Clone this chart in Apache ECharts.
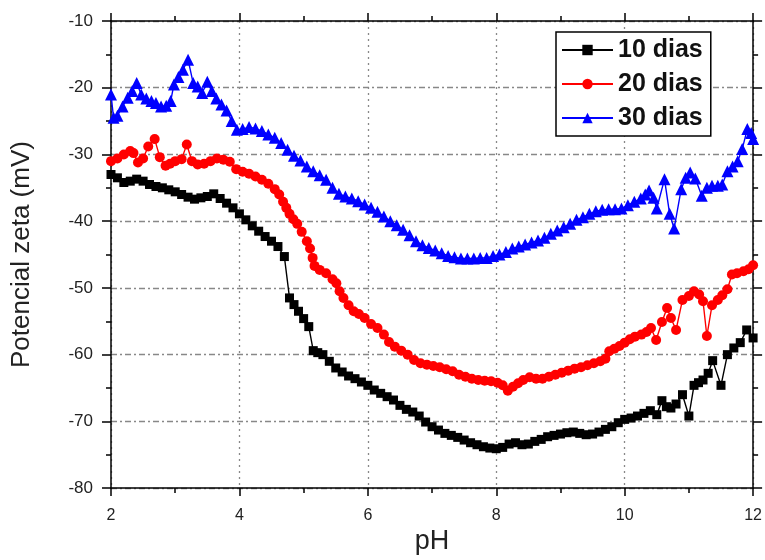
<!DOCTYPE html>
<html>
<head>
<meta charset="utf-8">
<script src="https://cdn.jsdelivr.net/npm/echarts@6/dist/echarts.min.js"></script>
<style>html,body{margin:0;padding:0;background:#fff}#c{width:765px;height:560px}</style>
</head>
<body>
<div id="c"></div>
<script>
var seriesNames = ['10 dias', '20 dias', '30 dias'];
var xTicks = [2, 4, 6, 8, 10, 12];
var yTicks = [-80, -70, -60, -50, -40, -30, -20, -10];

var ph10 = [2.0,2.1,2.2,2.3,2.4,2.5,2.6,2.7,2.8,2.9,3.0,3.1,3.2,3.3,3.4,3.5,3.6,3.7,3.8,3.9,4.0,4.1,4.2,4.3,4.4,4.5,4.6,4.7,4.78,4.85,4.92,5.0,5.08,5.15,5.22,5.3,5.4,5.5,5.6,5.7,5.8,5.9,6.0,6.1,6.2,6.3,6.4,6.5,6.6,6.7,6.8,6.9,7.0,7.1,7.2,7.3,7.4,7.5,7.6,7.7,7.8,7.9,8.0,8.1,8.2,8.3,8.4,8.5,8.6,8.7,8.8,8.9,9.0,9.1,9.2,9.3,9.4,9.5,9.6,9.7,9.8,9.9,10.0,10.1,10.2,10.3,10.4,10.5,10.58,10.65,10.72,10.8,10.9,11.0,11.08,11.15,11.22,11.3,11.37,11.5,11.6,11.7,11.8,11.9,12.0];
var zeta10 = [-33.0,-33.5,-34.2,-34.0,-33.7,-34.0,-34.5,-34.8,-35.0,-35.3,-35.6,-36.0,-36.4,-36.7,-36.5,-36.3,-35.9,-36.6,-37.3,-38.0,-38.9,-39.8,-40.7,-41.5,-42.3,-43.0,-43.8,-45.3,-51.5,-52.5,-53.5,-54.6,-55.8,-59.4,-59.7,-60.0,-61.0,-62.0,-62.6,-63.2,-63.6,-64.1,-64.6,-65.3,-65.8,-66.3,-66.8,-67.6,-68.2,-68.6,-69.2,-70.1,-70.8,-71.3,-71.8,-72.1,-72.4,-72.8,-73.2,-73.5,-73.8,-74.0,-74.1,-73.9,-73.4,-73.2,-73.5,-73.4,-73.0,-72.7,-72.3,-72.1,-71.9,-71.7,-71.6,-71.8,-72.0,-71.9,-71.6,-71.2,-70.8,-70.2,-69.7,-69.5,-69.2,-68.8,-68.4,-69.0,-66.9,-67.8,-68.0,-67.4,-66.0,-69.2,-64.6,-64.2,-63.8,-62.8,-60.9,-64.6,-60.0,-59.0,-58.2,-56.3,-57.5];

var ph20 = [2.0,2.1,2.2,2.3,2.35,2.42,2.5,2.58,2.68,2.76,2.85,2.92,3.0,3.1,3.18,3.26,3.35,3.45,3.55,3.65,3.75,3.85,3.95,4.05,4.15,4.25,4.35,4.45,4.55,4.62,4.68,4.73,4.78,4.84,4.9,4.97,5.05,5.1,5.14,5.17,5.25,5.35,5.45,5.51,5.56,5.62,5.7,5.78,5.86,5.95,6.05,6.15,6.25,6.33,6.42,6.52,6.62,6.72,6.82,6.92,7.02,7.12,7.22,7.32,7.42,7.52,7.62,7.72,7.82,7.92,8.02,8.1,8.18,8.26,8.34,8.42,8.52,8.62,8.72,8.82,8.92,9.02,9.12,9.22,9.32,9.42,9.52,9.62,9.7,9.76,9.84,9.92,10.0,10.08,10.16,10.26,10.34,10.41,10.49,10.58,10.66,10.72,10.8,10.9,11.0,11.08,11.16,11.22,11.28,11.36,11.45,11.52,11.6,11.67,11.75,11.85,11.93,12.0];
var zeta20 = [-31.0,-30.6,-30.0,-29.5,-29.8,-31.2,-30.6,-28.8,-27.7,-30.4,-31.7,-31.4,-31.0,-30.7,-28.5,-31.0,-31.5,-31.4,-31.0,-30.6,-30.8,-31.1,-32.2,-32.6,-32.9,-33.3,-33.8,-34.4,-35.2,-36.0,-37.1,-38.0,-38.9,-39.7,-40.4,-41.6,-43.0,-44.1,-45.5,-46.7,-47.3,-47.8,-48.7,-49.3,-50.5,-51.5,-52.6,-53.5,-53.9,-54.5,-55.4,-56.0,-57.0,-58.1,-58.8,-59.4,-60.0,-60.8,-61.3,-61.5,-61.7,-61.9,-62.2,-62.5,-63.0,-63.3,-63.6,-63.8,-63.9,-64.0,-64.2,-64.6,-65.4,-64.8,-64.3,-63.8,-63.4,-63.6,-63.6,-63.3,-63.0,-62.7,-62.4,-62.1,-61.9,-61.6,-61.3,-61.0,-60.6,-59.5,-59.1,-58.7,-58.2,-57.7,-57.3,-57.0,-56.6,-56.0,-57.8,-55.1,-53.0,-54.5,-56.3,-51.8,-51.2,-50.5,-51.0,-52.0,-57.2,-52.6,-51.8,-51.1,-50.2,-48.0,-47.8,-47.5,-47.2,-46.6];

var ph30 = [2.0,2.04,2.1,2.18,2.26,2.33,2.4,2.47,2.55,2.63,2.7,2.78,2.86,2.93,2.98,3.05,3.12,3.2,3.28,3.35,3.42,3.5,3.57,3.64,3.72,3.8,3.88,3.96,4.05,4.15,4.25,4.35,4.45,4.55,4.65,4.75,4.85,4.95,5.05,5.15,5.25,5.35,5.45,5.55,5.65,5.75,5.85,5.95,6.05,6.15,6.25,6.35,6.45,6.55,6.65,6.75,6.85,6.95,7.05,7.15,7.25,7.35,7.45,7.55,7.65,7.75,7.85,7.95,8.05,8.15,8.25,8.35,8.45,8.55,8.65,8.75,8.85,8.95,9.05,9.15,9.25,9.35,9.45,9.55,9.65,9.75,9.85,9.95,10.05,10.15,10.25,10.32,10.38,10.45,10.5,10.62,10.7,10.77,10.88,10.95,11.02,11.1,11.2,11.28,11.36,11.45,11.52,11.6,11.68,11.76,11.83,11.91,11.97,12.0];
var zeta30 = [-21.0,-24.5,-24.2,-22.8,-21.5,-20.5,-19.3,-21.0,-21.6,-22.0,-22.3,-22.8,-22.7,-22.0,-19.5,-18.4,-17.3,-15.8,-19.3,-19.8,-20.8,-19.1,-20.5,-21.6,-22.5,-23.4,-25.0,-26.3,-26.2,-25.9,-26.1,-26.5,-27.0,-27.5,-28.3,-29.3,-30.2,-30.9,-31.8,-32.5,-33.1,-33.8,-35.0,-35.9,-36.3,-36.6,-37.0,-37.5,-38.0,-38.6,-39.3,-40.0,-40.6,-41.3,-42.1,-43.0,-43.6,-44.0,-44.4,-44.8,-45.2,-45.4,-45.6,-45.6,-45.6,-45.5,-45.5,-45.2,-45.0,-44.6,-44.1,-43.8,-43.5,-43.2,-42.9,-42.5,-41.9,-41.4,-40.9,-40.4,-39.8,-39.4,-38.9,-38.5,-38.3,-38.2,-38.2,-38.1,-37.6,-37.1,-36.6,-36.0,-35.4,-36.5,-38.1,-33.7,-38.9,-41.1,-35.2,-33.5,-32.7,-33.6,-36.2,-35.0,-34.7,-34.7,-34.5,-32.5,-31.8,-31.0,-29.2,-26.2,-26.8,-27.7];

function zip(a, b) { return a.map(function (v, i) { return [v, b[i]]; }); }

var FONT = "'Liberation Sans', Arial, sans-serif";
var chart = echarts.init(document.getElementById('c'), null, { renderer: 'canvas' });

var xBase = {
  type: 'value', min: xTicks[0], max: xTicks[xTicks.length - 1], interval: 2,
  axisLine: { show: true, onZero: false, lineStyle: { color: '#000', width: 1.5 } },
  axisTick: { show: true, inside: false, length: 8, lineStyle: { color: '#000', width: 1.5 } },
  minorTick: { show: true, splitNumber: 2, length: 5, lineStyle: { color: '#000', width: 1.5 } },
  minorSplitLine: { show: false }
};
var yBase = {
  type: 'value', min: yTicks[0], max: yTicks[yTicks.length - 1], interval: 10,
  axisLine: { show: true, onZero: false, lineStyle: { color: '#000', width: 1.5 } },
  axisTick: { show: true, inside: false, length: 9, lineStyle: { color: '#000', width: 1.5 } },
  minorTick: { show: true, splitNumber: 2, length: 5, lineStyle: { color: '#000', width: 1.5 } },
  minorSplitLine: { show: false }
};

var option = {
  animation: false,
  backgroundColor: '#fff',
  grid: { left: 111, right: 11, top: 21, bottom: 68, containLabel: false },
  xAxis: [
    Object.assign({}, xBase, {
      position: 'bottom',
      name: 'pH', nameLocation: 'middle', nameGap: 38,
      nameTextStyle: { fontFamily: FONT, fontSize: 27, color: '#222' },
      axisLabel: { show: true, margin: 19, fontFamily: FONT, fontSize: 16, color: '#222' },
      splitLine: { show: true, lineStyle: { color: '#888', width: 1.3, type: [2, 4] } }
    }),
    Object.assign({}, xBase, {
      position: 'top',
      axisLabel: { show: false },
      splitLine: { show: false }
    })
  ],
  yAxis: [
    Object.assign({}, yBase, {
      position: 'left',
      name: 'Potencial zeta (mV)', nameLocation: 'middle', nameGap: 76,
      nameTextStyle: { fontFamily: FONT, fontSize: 26, color: '#222' },
      axisLabel: { show: true, margin: 18, fontFamily: FONT, fontSize: 17, color: '#222' },
      splitLine: { show: true, lineStyle: { color: '#888', width: 1.3, type: [6, 3, 2, 3] } }
    }),
    Object.assign({}, yBase, {
      position: 'right',
      axisLabel: { show: false },
      splitLine: { show: false }
    })
  ],
  legend: {
    orient: 'vertical', left: 556, top: 32,
    data: seriesNames,
    borderColor: '#000', borderWidth: 1.5, borderRadius: 0,
    backgroundColor: '#fff',
    padding: [4, 8, 4, 5],
    itemWidth: 51, itemHeight: 13, itemGap: 6,
    textStyle: { fontFamily: FONT, fontSize: 25, fontWeight: 'bold', color: '#111', lineHeight: 28 }
  },
  series: [
    {
      name: seriesNames[0], type: 'line', xAxisIndex: 0, yAxisIndex: 0,
      data: zip(ph10, zeta10),
      symbol: 'rect', symbolSize: 9, showAllSymbol: true,
      itemStyle: { color: '#000' }, lineStyle: { color: '#000', width: 1.4 }, z: 3
    },
    {
      name: seriesNames[1], type: 'line', xAxisIndex: 0, yAxisIndex: 0,
      data: zip(ph20, zeta20),
      symbol: 'circle', symbolSize: 10, showAllSymbol: true,
      itemStyle: { color: '#ff0000' }, lineStyle: { color: '#ff0000', width: 1.4 }, z: 3
    },
    {
      name: seriesNames[2], type: 'line', xAxisIndex: 0, yAxisIndex: 0,
      data: zip(ph30, zeta30),
      symbol: 'triangle', symbolSize: 12, showAllSymbol: true,
      itemStyle: { color: '#0000ff' }, lineStyle: { color: '#0000ff', width: 1.4 }, z: 3
    }
  ]
};
chart.setOption(option);
</script>
</body>
</html>
